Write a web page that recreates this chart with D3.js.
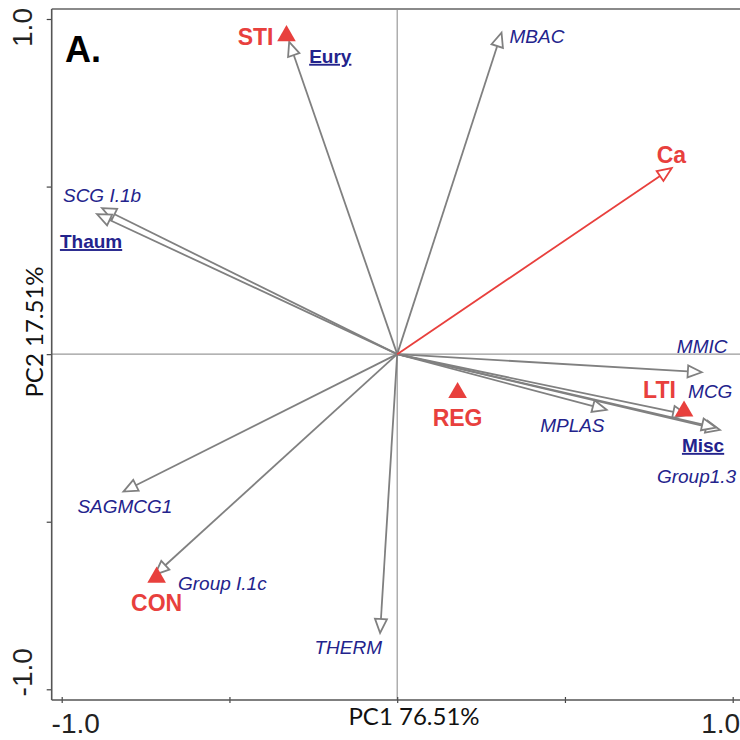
<!DOCTYPE html>
<html>
<head>
<meta charset="utf-8">
<script src="https://cdn.jsdelivr.net/npm/d3@7"></script>
<style>
  html, body { margin: 0; padding: 0; background: #fff; }
  svg { display: block; }
</style>
</head>
<body>
<svg id="chart" width="740" height="740"></svg>
<script>
// ---------------- DATA ----------------
const speciesNames = ["MBAC", "Eury", "SCG I.1b", "Thaum", "MMIC", "MCG", "MPLAS", "Misc", "Group1.3", "SAGMCG1", "Group I.1c", "THERM"];
const speciesPC1   = [0.311, -0.322, -0.880, -0.895, 0.908, 0.864, 0.624, 0.962, 0.950, -0.816, -0.722, -0.051];
const speciesPC2   = [0.959, 0.932, 0.436, 0.418, -0.054, -0.181, -0.166, -0.226, -0.219, -0.410, -0.658, -0.832];
const speciesIsPhylum = [false, true, false, true, false, false, false, true, false, false, false, false];

const envNames = ["Ca"];
const envPC1   = [0.818];
const envPC2   = [0.555];

const sampleNames = ["STI", "REG", "LTI", "CON"];
const samplePC1   = [-0.330, 0.180, 0.855, -0.717];
const samplePC2   = [0.950, -0.115, -0.170, -0.666];

const tickValues = [-1, -0.5, 0, 0.5, 1];
const tickLabels = ["-1.0", "", "", "", "1.0"];
const xTitle = "PC1 76.51%";
const yTitle = "PC2 17.51%";
const panelLabel = "A.";

// ---------------- LAYOUT ----------------
const W = 740, H = 740;
const plot = { left: 51.7, top: 9, right: 760, bottom: 700 };
const RED = "#e8403d", NAVY = "#23238c", GRAY = "#808080";

// label offsets (px) relative to the arrow tip / sample point
const labelLayout = {
  "MBAC": [8, 10, "start"], "Eury": [20, 21, "start"], "SCG I.1b": [-39, -6, "start"],
  "Thaum": [-37, 34, "start"], "MMIC": [-25, -19, "start"], "MCG": [1, -17, "start"],
  "MPLAS": [-2, 22, "end"], "Misc": [-38, 22, "start"], "Group1.3": [-59, 55, "start"],
  "SAGMCG1": [-46, 21, "start"], "Group I.1c": [23, 15, "start"], "THERM": [2, 21, "end"],
  "Ca": [-15, -5, "start"],
  "STI": [-13, 9, "end"], "REG": [0, 33, "middle"], "LTI": [-41, -13, "start"], "CON": [0, 34, "middle"]
};

const svg = d3.select("#chart");
const x = d3.scaleLinear().domain([-1, 1]).range([61.7, 732.7]);
const y = d3.scaleLinear().domain([-1, 1]).range([689.3, 19]);

// zero lines
svg.append("line").attr("x1", x(0)).attr("x2", x(0)).attr("y1", plot.top).attr("y2", plot.bottom)
  .attr("stroke", "#9a9a9a").attr("stroke-width", 1.2);
svg.append("line").attr("x1", plot.left).attr("x2", W).attr("y1", y(0)).attr("y2", y(0))
  .attr("stroke", "#9a9a9a").attr("stroke-width", 1.2);

// top frame
svg.append("line").attr("x1", plot.left).attr("x2", W).attr("y1", plot.top).attr("y2", plot.top)
  .attr("stroke", "#8a8a8a").attr("stroke-width", 2);

// axes
const fmt = d => tickLabels[tickValues.indexOf(d)] || "";
const xAxis = svg.append("g").attr("transform", `translate(0,${plot.bottom})`)
  .call(d3.axisBottom(x).tickValues(tickValues).tickSize(3).tickFormat(() => ""));
const yAxis = svg.append("g").attr("transform", `translate(${plot.left},0)`)
  .call(d3.axisLeft(y).tickValues(tickValues).tickSize(5).tickFormat(() => ""));
[xAxis, yAxis].forEach(a => {
  a.select(".domain").remove();
  a.selectAll(".tick line").attr("stroke", "#444").attr("stroke-width", 1.2);
});
xAxis.selectAll(".tick line").attr("y1", -3).attr("y2", 3);
svg.append("line").attr("x1", plot.left).attr("x2", plot.left).attr("y1", plot.top).attr("y2", plot.bottom)
  .attr("stroke", "#555").attr("stroke-width", 1.6);
svg.append("line").attr("x1", plot.left).attr("x2", W).attr("y1", plot.bottom).attr("y2", plot.bottom)
  .attr("stroke", "#555").attr("stroke-width", 1.6);

// tick labels
const tickFont = "'Liberation Sans', Arial, sans-serif";
const xLabOff = { "-1": 14, "1": -12 };
tickValues.forEach(v => {
  const t = fmt(v);
  if (!t) return;
  svg.append("text").attr("x", x(v) + xLabOff[v]).attr("y", plot.bottom + 33)
    .attr("text-anchor", "middle").attr("font-family", tickFont).attr("font-size", 28)
    .attr("fill", "#222").text(t);
});
const yLabOff = { "-1": -17, "1": 8.5 };
tickValues.forEach(v => {
  const t = fmt(v);
  if (!t) return;
  const cy = y(v) + yLabOff[v];
  svg.append("text").attr("transform", `translate(32,${cy}) rotate(-90)`)
    .attr("text-anchor", "middle").attr("font-family", tickFont).attr("font-size", 28)
    .attr("fill", "#222").text(t);
});

// axis titles
svg.append("text").attr("x", 414).attr("y", 725).attr("text-anchor", "middle")
  .attr("font-family", "Lato, 'Open Sans', sans-serif").attr("font-size", 24).attr("fill", "#111")
  .text(xTitle);
svg.append("text").attr("transform", "translate(43,332) rotate(-90)").attr("text-anchor", "middle")
  .attr("font-family", "Lato, 'Open Sans', sans-serif").attr("font-size", 24).attr("fill", "#111")
  .text(yTitle);

// arrows
function drawArrow(g, px, py, color) {
  const x0 = x(0), y0 = y(0);
  const tx = x(px), ty = y(py);
  const ang = Math.atan2(ty - y0, tx - x0);
  const L = 14, hw = 6;
  const bx = tx - L * Math.cos(ang), by = ty - L * Math.sin(ang);
  g.append("line").attr("x1", x0).attr("y1", y0).attr("x2", bx).attr("y2", by)
    .attr("stroke", color).attr("stroke-width", 1.8);
  const nx = -Math.sin(ang), ny = Math.cos(ang);
  const pts = [[tx, ty], [bx + hw * nx, by + hw * ny], [bx - hw * nx, by - hw * ny]];
  g.append("path").attr("d", d3.line()(pts) + "Z")
    .attr("fill", "#fff").attr("stroke", color).attr("stroke-width", 1.8)
    .attr("stroke-linejoin", "miter");
}
const arrowsG = svg.append("g");
speciesNames.forEach((n, i) => drawArrow(arrowsG, speciesPC1[i], speciesPC2[i], GRAY));
envNames.forEach((n, i) => drawArrow(arrowsG, envPC1[i], envPC2[i], RED));

// samples
const sym = d3.symbol().type(d3.symbolTriangle).size(150);
sampleNames.forEach((n, i) => {
  svg.append("path").attr("d", sym())
    .attr("transform", `translate(${x(samplePC1[i])},${y(samplePC2[i])})`)
    .attr("fill", RED);
});

// labels
const labFont = "'Liberation Sans', Arial, sans-serif";
function label(name, px, py, opts) {
  const [dx, dy, anchor] = labelLayout[name];
  svg.append("text").attr("x", x(px) + dx).attr("y", y(py) + dy)
    .attr("text-anchor", anchor).attr("font-family", labFont)
    .attr("font-size", opts.size).attr("font-weight", opts.bold ? "bold" : "normal")
    .attr("font-style", opts.italic ? "italic" : "normal")
    .attr("text-decoration", opts.underline ? "underline" : null)
    .attr("fill", opts.color).text(name);
}
speciesNames.forEach((n, i) => {
  const ph = speciesIsPhylum[i];
  label(n, speciesPC1[i], speciesPC2[i], { size: 19, bold: ph, italic: !ph, underline: ph, color: NAVY });
});
envNames.forEach((n, i) => label(n, envPC1[i], envPC2[i], { size: 23, bold: true, color: RED }));
sampleNames.forEach((n, i) => label(n, samplePC1[i], samplePC2[i], { size: 23, bold: true, color: RED }));

// panel label
svg.append("text").attr("x", 65).attr("y", 62).attr("font-family", labFont)
  .attr("font-size", 36).attr("font-weight", "bold").attr("fill", "#000").text(panelLabel);
</script>
</body>
</html>
